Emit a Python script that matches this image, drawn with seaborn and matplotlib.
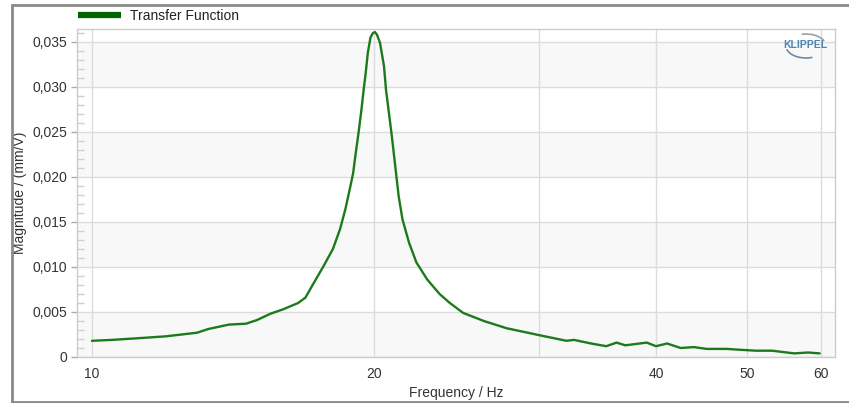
import numpy as np
import pandas as pd
import seaborn as sns
import matplotlib.pyplot as plt
from matplotlib.lines import Line2D
from matplotlib.patches import Arc
from matplotlib.ticker import FuncFormatter, MultipleLocator, NullLocator

freq = [10.0, 10.5, 11.25, 12.0, 12.95, 13.3, 14.0, 14.6, 15.0, 15.5, 16.0, 16.6,
        16.9, 17.2, 17.67, 18.08, 18.4, 18.64, 18.85, 19.0, 19.12, 19.25, 19.4,
        19.5, 19.6, 19.7, 19.83, 19.95, 20.05, 20.15, 20.3, 20.5, 20.6, 20.75,
        20.9, 21.1, 21.25, 21.45, 21.8, 22.2, 22.8, 23.5, 24.1, 24.9, 26.2, 27.7,
        30.1, 32.1, 32.7, 34.1, 35.4, 36.3, 37.1, 39.1, 40.0, 41.1, 42.5, 43.9,
        45.3, 47.6, 49.2, 51.2, 53.2, 56.2, 58.1, 59.8]
magnitude = [0.0018, 0.0019, 0.0021, 0.0023, 0.0027, 0.0031, 0.0036, 0.0037, 0.0041,
             0.0048, 0.0053, 0.0060, 0.0066, 0.0080, 0.0101, 0.0120, 0.0142, 0.0164,
             0.0187, 0.0204, 0.0226, 0.0248, 0.0276, 0.0297, 0.0316, 0.0338, 0.0355,
             0.0360, 0.0361, 0.0358, 0.0349, 0.0323, 0.0297, 0.0271, 0.0245, 0.0207,
             0.0179, 0.0153, 0.0127, 0.0105, 0.0086, 0.0070, 0.0060, 0.0049, 0.0040,
             0.0032, 0.0024, 0.0018, 0.0019, 0.0015, 0.0012, 0.0016, 0.0013, 0.0016,
             0.0012, 0.0015, 0.0010, 0.0011, 0.0009, 0.0009, 0.0008, 0.0007, 0.0007,
             0.0004, 0.0005, 0.0004]
x_ticks = [10, 20, 30, 40, 50, 60]
x_tick_labels = ['10', '20', '', '40', '50', '60']
series_name = 'Transfer Function'

df = pd.DataFrame({'Frequency': freq, 'Magnitude': magnitude})

sns.set_theme(style='white')
plt.rcParams['font.family'] = ['Liberation Sans', 'DejaVu Sans']

W, H = 849, 403
fig = plt.figure(figsize=(W / 100, H / 100), dpi=100)
ax = fig.add_axes([77 / W, 1 - 357 / H, (835 - 77) / W, (357 - 29.3) / H])

# alternating bands
for lo in np.arange(0, 0.035, 0.01):
    ax.axhspan(lo, lo + 0.005, color='#f8f8f8', zorder=0, lw=0)

sns.lineplot(data=df, x='Frequency', y='Magnitude', ax=ax, color='#1c7a1c',
             lw=1.7, zorder=3, legend=False)

ax.set_xscale('log')
ax.set_xlim(9.64, 62.1)
ax.set_ylim(0, 0.03641)
ax.set_xticks(x_ticks)
ax.set_xticklabels(x_tick_labels)
ax.xaxis.set_minor_locator(NullLocator())
ax.yaxis.set_major_locator(MultipleLocator(0.005))
ax.yaxis.set_minor_locator(MultipleLocator(0.001))
ax.yaxis.set_major_formatter(FuncFormatter(
    lambda v, _: '0' if abs(v) < 1e-12 else f'{v:.3f}'.replace('.', ',')))

ax.grid(True, which='major', color='#dcdcdc', lw=1)
ax.set_axisbelow(True)
for s in ax.spines.values():
    s.set_color('#cccccc')
    s.set_linewidth(1)

ax.tick_params(axis='y', which='major', direction='out', length=4, width=1,
               color='#aaaaaa', labelsize=10, labelcolor='#333333', pad=3, left=True)
ax.tick_params(axis='y', which='minor', direction='in', length=5, width=1,
               color='#d0d0d0', left=True)
ax.tick_params(axis='x', which='major', length=0, labelsize=10,
               labelcolor='#333333', pad=7)

ax.set_xlabel('Frequency / Hz', fontsize=10, color='#333333', labelpad=4)
ax.set_ylabel('Magnitude / (mm/V)', fontsize=10, color='#333333')
ax.yaxis.set_label_coords((27 - 77) / 758, 0.5)

# legend
handle = Line2D([], [], color='#006400', lw=4.5, solid_capstyle='butt')
ax.legend(handles=[handle], labels=[series_name], loc='center left',
          bbox_to_anchor=(78 / W, 1 - 16 / H), bbox_transform=fig.transFigure,
          frameon=False, borderpad=0, borderaxespad=0, handlelength=3.1,
          handletextpad=0.65, fontsize=10, labelcolor='#222222')

# KLIPPEL logo
fig.text(805.5 / W, 1 - 45.5 / H, 'KLIPPEL', fontsize=7.5, fontweight='bold',
         color='#4a86b8', ha='center', va='center')
cx, cy = 806 / W, 1 - 46 / H
fig.add_artist(Arc((cx, cy), 40 / W, 24 / H, theta1=30, theta2=100,
                   transform=fig.transFigure, color='#a0a0a0', lw=1.2))
fig.add_artist(Arc((cx, cy), 40 / W, 24 / H, theta1=200, theta2=285,
                   transform=fig.transFigure, color='#6b8aa6', lw=1.2))

# outer frame
fig.add_artist(Line2D([12 / W, 12 / W], [1 - 5 / H, 1 - 402 / H],
                      transform=fig.transFigure, color='#8a8a8a', lw=2))
fig.add_artist(Line2D([12 / W, 1], [1 - 5 / H, 1 - 5 / H],
                      transform=fig.transFigure, color='#8a8a8a', lw=2))
fig.add_artist(Line2D([12 / W, 1], [1 - 402 / H, 1 - 402 / H],
                      transform=fig.transFigure, color='#8a8a8a', lw=2))

fig.savefig('out.png', dpi=100)
